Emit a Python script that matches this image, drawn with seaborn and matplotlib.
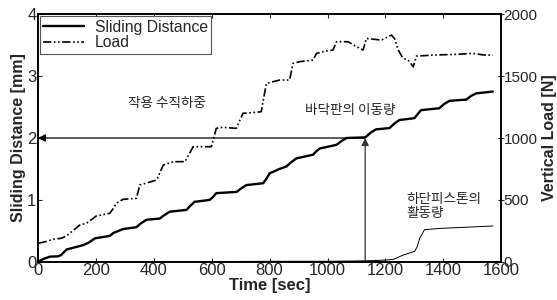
"""Sliding distance / vertical load vs. time, with the lower-piston movement."""

import matplotlib
matplotlib.use("Agg")
import matplotlib.pyplot as plt
import pandas as pd
import seaborn as sns

# sliding distance of the base plate [mm]
slide_t = [0, 20, 42, 70, 80, 99, 156, 175, 197, 248, 262, 294, 340, 355, 375, 421,
           435, 455, 513, 525, 541, 593, 605, 616, 686, 700, 720, 778, 790, 800, 834,
           858, 875, 892, 950, 960, 973, 1031, 1048, 1066, 1128, 1133, 1150, 1168,
           1214, 1230, 1248, 1300, 1312, 1323, 1386, 1403, 1421, 1479, 1496, 1513, 1571]
slide_mm = [0.0, 0.05, 0.085, 0.09, 0.11, 0.20, 0.27, 0.31, 0.38, 0.42, 0.47, 0.53, 0.56,
            0.62, 0.68, 0.70, 0.75, 0.81, 0.84, 0.90, 0.97, 1.00, 1.05, 1.11, 1.13, 1.18,
            1.24, 1.27, 1.35, 1.43, 1.50, 1.54, 1.61, 1.67, 1.73, 1.78, 1.83, 1.89, 1.95,
            2.00, 2.01, 2.02, 2.09, 2.14, 2.16, 2.23, 2.29, 2.32, 2.39, 2.45, 2.48, 2.55,
            2.60, 2.62, 2.68, 2.72, 2.75]

# applied vertical load [N]
load_t = [0, 1, 30, 53, 82, 99, 120, 145, 168, 202, 248, 260, 271, 294, 340, 352, 380,
          410, 433, 467, 508, 530, 536, 599, 616, 637, 685, 708, 740, 771, 789, 835, 869,
          881, 904, 950, 962, 990, 1019, 1031, 1071, 1100, 1123, 1134, 1186, 1221, 1232,
          1244, 1261, 1278, 1296, 1307, 1363, 1400, 1443, 1501, 1540, 1571]
load_n = [0, 150, 165, 183, 191, 210, 250, 298, 312, 371, 392, 430, 473, 505, 513, 621,
          640, 661, 782, 809, 809, 903, 930, 930, 1078, 1086, 1078, 1199, 1205, 1212, 1441,
          1468, 1468, 1602, 1616, 1629, 1683, 1700, 1710, 1777, 1777, 1737, 1710, 1804,
          1790, 1831, 1800, 1710, 1643, 1630, 1575, 1661, 1669, 1672, 1675, 1683, 1670, 1669]

# movement of the lower piston [mm]
piston_t = [0, 200, 400, 600, 800, 1000, 1100, 1150, 1200, 1227, 1261, 1301, 1310,
            1318, 1335, 1386, 1479, 1571]
piston_mm = [0.0, 0.0, 0.005, 0.005, 0.01, 0.01, 0.015, 0.02, 0.03, 0.04, 0.11, 0.17,
             0.25, 0.38, 0.52, 0.54, 0.56, 0.58]

arrow_t = 1130
arrow_mm = 2.0

sns.set_style("ticks")
plt.rcParams["font.family"] = ["Liberation Sans", "Noto Sans CJK KR", "DejaVu Sans"]
plt.rcParams["font.size"] = 11

KR = ["Noto Sans CJK KR"]

fig = plt.figure(figsize=(5.57, 3.0), dpi=100)
ax = fig.add_axes([0.068, 0.127, 0.832, 0.826])
ax2 = ax.twinx()

slide = pd.DataFrame({"t": slide_t, "mm": slide_mm})
load = pd.DataFrame({"t": load_t, "N": load_n})
piston = pd.DataFrame({"t": piston_t, "mm": piston_mm})

sns.lineplot(data=slide, x="t", y="mm", ax=ax, color="black", linewidth=1.7,
             label="Sliding Distance", legend=False)
sns.lineplot(data=piston, x="t", y="mm", ax=ax, color="black", linewidth=0.7, legend=False)
sns.lineplot(data=load, x="t", y="N", ax=ax2, color="black", linewidth=1.2,
             linestyle=(0, (5, 1.5, 1, 1.5, 1, 1.5)), label="Load", legend=False)

# arrows: from the 2 mm point back to the axis, and up from the time axis
ax.annotate("", xy=(0, arrow_mm), xytext=(arrow_t, arrow_mm),
            arrowprops=dict(arrowstyle="-|>", color="black", lw=0.9,
                            shrinkA=0, shrinkB=0, mutation_scale=11))
ax.annotate("", xy=(arrow_t, arrow_mm), xytext=(arrow_t, 0),
            arrowprops=dict(arrowstyle="-|>", color="#333333", lw=0.9,
                            shrinkA=0, shrinkB=0, mutation_scale=11))

ax.text(446, 2.56, "작용 수직하중", ha="center", va="center", fontsize=9.8, family=KR)
ax.text(1078, 2.45, "바닥판의 이동량", ha="center", va="center", fontsize=9.8, family=KR)
ax.text(1272, 0.9, "하단피스톤의\n활동량", ha="left", va="center", fontsize=9.8,
        linespacing=0.95, family=KR)

ax.set_xlim(0, 1600)
ax.set_ylim(0, 4)
ax2.set_ylim(0, 2000)
ax.set_xticks(range(0, 1601, 200))
ax.set_yticks([0, 1, 2, 3, 4])
ax2.set_yticks([0, 500, 1000, 1500, 2000])

ax.set_xlabel("Time [sec]", fontweight="bold", fontsize=12, labelpad=0)
ax.set_ylabel("Sliding Distance [mm]", fontweight="bold", fontsize=11.5, labelpad=1)
ax2.set_ylabel("Vertical Load [N]", fontweight="bold", fontsize=11.5, labelpad=3)

ax.tick_params(axis="both", direction="in", length=3, width=0.8, pad=1, top=True,
               labelsize=12)
ax.tick_params(axis="x", pad=1)
ax2.tick_params(axis="y", direction="inout", length=5, width=0.8, pad=-1, labelsize=11)
for a in (ax, ax2):
    for s in a.spines.values():
        s.set_linewidth(1.2)
        s.set_color("black")

handles = ax.get_lines()[:1] + ax2.get_lines()[:1]
leg = ax.legend(handles, ["Sliding Distance", "Load"], loc="upper left", fontsize=11.3,
                frameon=True, fancybox=False, edgecolor="#555555", framealpha=1,
                borderpad=0.2, labelspacing=0.05, handlelength=2.6, handletextpad=0.7,
                borderaxespad=0.15)
leg.get_frame().set_linewidth(0.8)

fig.savefig("out.png", dpi=100, facecolor="white")
